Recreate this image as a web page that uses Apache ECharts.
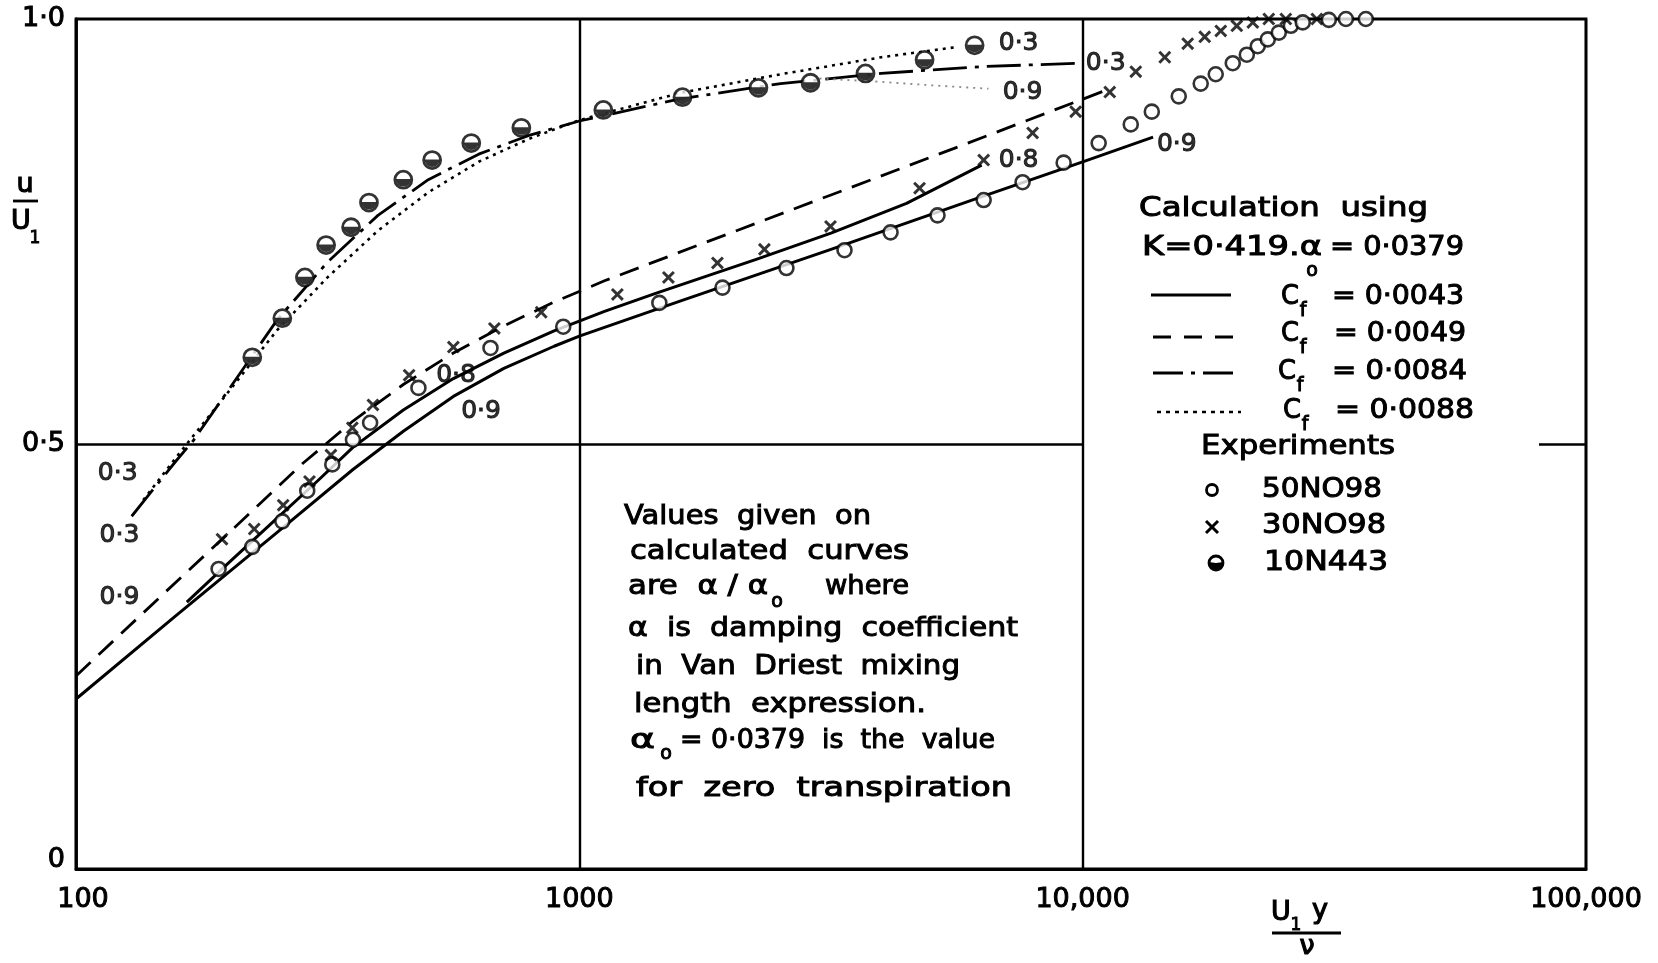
<!DOCTYPE html>
<html><head><meta charset="utf-8">
<script src="https://cdn.jsdelivr.net/npm/echarts@6/dist/echarts.min.js"></script>
<style>html,body{margin:0;padding:0;background:#fff}#c{width:1658px;height:963px}</style>
</head><body><div id="c"></div>
<script>
// ---------------- data (x = U1*y/nu, u/U1) ----------------
const xTicks = [100, 1000, 10000, 100000];
const xTickLabels = ['100', '1000', '10,000', '100,000'];
const yTicks = [0, 0.5, 1];
const yTickLabels = ['0', '0·5', '1·0'];

// Cf = 0.0043 (solid), alpha/alpha0 = 0.9 and 0.8
const solid09 = [[100,0.200],[158,0.298],[251,0.396],[355,0.470],[447,0.515],[562,0.556],[708,0.589],[891,0.615],[1000,0.627],[1585,0.668],[3162,0.729],[6310,0.791],[10000,0.832],[13800,0.861]];
const solid08 = [[166,0.314],[200,0.359],[250,0.412],[300,0.455],[355,0.496],[447,0.540],[562,0.577],[708,0.607],[891,0.633],[1122,0.656],[1413,0.677],[1778,0.697],[2239,0.717],[3162,0.748],[4467,0.783],[6300,0.828]];
// Cf = 0.0049 (dashed), 0.9
const dashed09 = [[100,0.227],[150,0.325],[200,0.394],[250,0.448],[282,0.477],[355,0.527],[447,0.570],[562,0.607],[708,0.639],[891,0.667],[1122,0.692],[1778,0.737],[3162,0.793],[5623,0.849],[11220,0.917]];
// Cf = 0.0084 (dash-dot), 0.3
const dashDot03 = [[129,0.415],[158,0.480],[171,0.504],[200,0.562],[251,0.646],[316,0.714],[398,0.769],[501,0.811],[631,0.841],[794,0.863],[1000,0.880],[1585,0.906],[2512,0.924],[3981,0.936],[6310,0.944],[9863,0.948]];
// Cf = 0.0088 (dotted), 0.3 and 0.9
const dotted03 = [[136,0.434],[158,0.484],[200,0.560],[251,0.634],[316,0.696],[398,0.751],[501,0.796],[631,0.832],[794,0.859],[1000,0.881],[1585,0.913],[2512,0.935],[3981,0.955],[5623,0.967]];
const dotted09 = [[3000,0.930],[4000,0.926],[5000,0.922],[6500,0.918]];

// Experiments
const exp50NO98 = [[192,0.353],[224,0.379],[257,0.409],[288,0.445],[323,0.476],[355,0.505],[384,0.525],[479,0.566],[666,0.613],[929,0.638],[1442,0.666],[1925,0.684],[2579,0.707],[3364,0.728],[4153,0.749],[5148,0.769],[6358,0.787],[7597,0.808],[9167,0.831],[10760,0.854],[12460,0.876],[13720,0.891],[15520,0.909],[17160,0.924],[18380,0.935],[19870,0.948],[21190,0.958],[22280,0.968],[23320,0.976],[24530,0.984],[25920,0.992],[27370,0.996],[30840,0.999],[33340,1.0],[36520,1.0]];
const exp30NO98 = [[195,0.388],[226,0.400],[258,0.428],[291,0.456],[321,0.487],[354,0.519],[389,0.546],[459,0.581],[562,0.614],[678,0.636],[840,0.655],[1190,0.676],[1503,0.696],[1881,0.713],[2332,0.729],[3155,0.756],[4742,0.801],[6358,0.834],[7954,0.866],[9685,0.891],[11320,0.914],[12750,0.938],[14560,0.955],[16170,0.971],[17480,0.979],[18810,0.986],[20240,0.992],[21780,0.996],[23430,1.0],[25330,1.0],[29190,1.0]];
const exp10N443 = [[224,0.602],[257,0.648],[285,0.696],[314,0.734],[352,0.755],[382,0.784],[447,0.811],[510,0.834],[610,0.854],[767,0.872],[1116,0.893],[1603,0.908],[2269,0.919],[2879,0.925],[3703,0.936],[4852,0.952],[6100,0.969]];

// values of alpha/alpha0 written on the curves, and where (data coords)
const curveLabelText = ['0·3','0·3','0·9','0·9','0·8','0·8','0·9','0·3','0·3','0·9'];
const curveLabelAt = [[7460,0.971],[11110,0.948],[7597,0.913],[15380,0.852],[7460,0.834],[569,0.581],[638,0.538],[121,0.465],[122,0.392],[122,0.319]];

// ---------------- chart ----------------
const FONT = '"DejaVu Sans", sans-serif';
const BLACK = '#000';
const TW = 1.0; // ink weight of lettering
const mctx = document.createElement('canvas').getContext('2d');
function T(s, x, y, size, opt) {
  opt = opt || {};
  const font = (opt.bold ? 'bold ' : '') + size + 'px "DejaVu Sans"';
  let sx = 1;
  if (opt.right) { mctx.font = font; sx = (opt.right - x) / mctx.measureText(s).width; }
  const align = opt.align || 'left';
  const lw = (opt.lw == null ? TW : opt.lw);
  return {type:'text', x:x, y:y, scaleX:sx, z:100, silent:true,
    style:{text:s, font:font, fill:BLACK, textFill:BLACK, stroke:BLACK, textStroke:BLACK,
      lineWidth:lw, textStrokeWidth:lw,
      textAlign:align, align:align, textVerticalAlign:'middle', verticalAlign:'middle'}};
}
function L(x1,y1,x2,y2,w,dash){
  return {type:'line', z:100, silent:true, shape:{x1:x1,y1:y1,x2:x2,y2:y2},
    style:{stroke:BLACK, lineWidth:w||2.8, lineDash:dash||null}};
}

const graphics = [
  // y-axis title u / U1
  T('u', 25, 185, 27, {align:'center', lw:1.2}),
  L(13, 201, 38, 201, 2.8),
  T('U', 21, 222, 27, {align:'center', lw:1.2}),
  T('1', 35, 239, 17, {align:'center', lw:0.9}),
  // x-axis title U1 y / nu
  T('U', 1281, 913, 27, {align:'center', lw:1.2}),
  T('1', 1296, 926, 17, {align:'center', lw:0.9}),
  T('y', 1320, 911, 27, {align:'center', lw:1.2}),
  L(1272, 933, 1341, 933, 2.8),
  T('ν', 1307, 947, 27, {align:'center', lw:1.2}),

  // legend block
  T('Calculation  using', 1139, 209, 27, {right:1428}),
  T('K=0·419.α', 1142, 248, 27, {right:1322}),
  T('o', 1312, 271, 19, {align:'center'}),
  T('= 0·0379', 1330, 248, 27, {right:1464}),

  L(1151, 295, 1231, 295, 2.8),
  T('C', 1281, 297, 27, {right:1299}),
  T('f', 1303, 311, 19, {align:'center'}),
  T('= 0·0043', 1332, 297, 27, {right:1464}),

  L(1153, 337, 1233, 337, 2.8, [18, 13]),
  T('C', 1281, 334, 27, {right:1299}),
  T('f', 1303, 348, 19, {align:'center'}),
  T('= 0·0049', 1334, 334, 27, {right:1466}),

  L(1153, 373, 1237, 373, 2.8, [30, 8, 4, 8]),
  T('C', 1278, 372, 27, {right:1296}),
  T('f', 1300, 386, 19, {align:'center'}),
  T('= 0·0084', 1332, 372, 27, {right:1467}),

  L(1157, 412, 1241, 412, 2.4, [4, 5]),
  T('C', 1283, 411, 27, {right:1301}),
  T('f', 1305, 425, 19, {align:'center'}),
  T('= 0·0088', 1335, 411, 27, {right:1474}),

  T('Experiments', 1201, 447, 27, {right:1395}),
  {type:'circle', z:100, silent:true, shape:{cx:1212, cy:490, r:5.5}, style:{fill:'#fff', stroke:BLACK, lineWidth:2.8}},
  T('50NO98', 1262, 490, 27, {right:1382}),
  L(1206, 521, 1218, 533, 3), L(1218, 521, 1206, 533, 3),
  T('30NO98', 1262, 526, 27, {right:1386}),
  {type:'circle', z:100, silent:true, shape:{cx:1216, cy:563, r:7}, style:{fill:'#fff', stroke:BLACK, lineWidth:2.8}},
  {type:'sector', z:101, silent:true, shape:{cx:1216, cy:563, r:7.5, r0:0, startAngle:-0.15, endAngle:Math.PI+0.15}, style:{fill:BLACK}},
  T('10N443', 1264, 563, 27, {right:1388}),

  // note in the middle
  T('Values  given  on', 624, 517, 27, {right:871}),
  T('calculated  curves', 630, 552, 27, {right:909}),
  T('are  α / α', 628, 587, 27, {right:768}),
  T('o', 777, 602, 19, {align:'center'}),
  T('where', 825, 587, 27, {right:909}),
  T('α  is  damping  coefficient', 628, 629, 27, {right:1018}),
  T('in  Van  Driest  mixing', 636, 667, 27, {right:960}),
  T('length  expression.', 634, 705, 27, {right:926}),
  T('α', 630, 741, 27, {right:655}),
  T('o', 666, 754, 19, {align:'center'}),
  T('= 0·0379  is  the  value', 680, 741, 27, {right:995}),
  T('for  zero  transpiration', 636, 789, 27, {right:1012})
];

const lineSeries = (data, dash, w, color) => ({
  type:'line', data:data, symbol:'none', showSymbol:false, smooth:false,
  silent:true, z:3, lineStyle:{color:color||BLACK, width:w||3, type:dash||'solid', cap:'butt', join:'round'}
});

const option = {
  backgroundColor:'#fff',
  animation:false,
  grid:{left:76, right:72, top:19, bottom:94, show:true, borderColor:BLACK, borderWidth:2.8, backgroundColor:'transparent'},
  xAxis:{
    type:'log', logBase:10, min:100, max:100000,
    axisLine:{show:true, lineStyle:{color:BLACK, width:2.8}},
    axisTick:{show:false},
    splitLine:{show:true, lineStyle:{color:BLACK, width:2.4}},
    axisLabel:{
      margin:17, color:BLACK, fontSize:27, fontFamily:FONT, textBorderColor:BLACK, textBorderWidth:TW,
      formatter:function(v){ const i = xTicks.indexOf(Math.round(v)); const s = i>=0 ? xTickLabels[i] : ''; return i===0 ? '{h|'+s+'}' : s; },
      rich:{h:{padding:[0,0,0,14], fontSize:27, fontFamily:FONT, color:BLACK, textBorderColor:BLACK, textBorderWidth:TW}}
    }
  },
  yAxis:{
    type:'value', min:0, max:1, interval:0.5,
    axisLine:{show:true, lineStyle:{color:BLACK, width:2.8}},
    axisTick:{show:false},
    splitLine:{show:false},
    axisLabel:{
      margin:11, color:BLACK, fontSize:27, fontFamily:FONT, textBorderColor:BLACK, textBorderWidth:TW,
      formatter:function(v){ const i = yTicks.indexOf(v); const s = i>=0 ? yTickLabels[i] : ''; return v===0 ? '{z|'+s+'}' : s; },
      rich:{z:{padding:[0,0,18,0], fontSize:27, fontFamily:FONT, color:BLACK, textBorderColor:BLACK, textBorderWidth:TW}}
    }
  },
  series:[
    Object.assign(lineSeries(solid09), {
      markLine:{silent:true, symbol:['none','none'], animation:false, label:{show:false},
        lineStyle:{color:BLACK, width:2.6, type:'solid'},
        data:[[{coord:[100,0.5]},{coord:[10000,0.5]}],[{coord:[80650,0.5]},{coord:[100000,0.5]}]]}
    }),
    lineSeries(solid08),
    lineSeries(dashed09, [20, 11], 2.8),
    lineSeries(dashDot03, [34, 8, 4, 8], 2.8),
    lineSeries(dotted03, [3, 5], 2.6),
    lineSeries(dotted09, [2, 5], 1.8, '#888'),
    {type:'scatter', data:exp50NO98, symbol:'circle', symbolSize:14, silent:true, z:5,
      itemStyle:{color:'#fff', borderColor:BLACK, borderWidth:2.6}},
    {type:'scatter', data:exp30NO98, symbol:'path://M1.6,0 L5,3.4 L8.4,0 L10,1.6 L6.6,5 L10,8.4 L8.4,10 L5,6.6 L1.6,10 L0,8.4 L3.4,5 L0,1.6 Z',
      symbolSize:13, silent:true, z:5, itemStyle:{color:BLACK}},
    {type:'scatter', data:exp10N443, symbol:'circle', symbolSize:17, silent:true, z:6,
      itemStyle:{color:'#fff', borderColor:BLACK, borderWidth:2.8}},
    {type:'scatter', data:exp10N443, symbol:'path://M-10,0 A10,10 0 0,0 10,0 Z', symbolSize:[15,7.5], symbolOffset:[0,3.2],
      silent:true, z:7, itemStyle:{color:BLACK}},
    {type:'scatter', silent:true, z:8, symbolSize:1, itemStyle:{color:'rgba(0,0,0,0)'},
      data:curveLabelAt.map((p,i)=>({value:p, name:curveLabelText[i]})),
      label:{show:true, position:'inside', formatter:p=>p.name, color:BLACK, fontSize:25, fontFamily:FONT,
        textBorderColor:BLACK, textBorderWidth:TW}}
  ],
  graphic:graphics
};

const chart = echarts.init(document.getElementById('c'));
chart.setOption(option);
</script>
</body></html>
